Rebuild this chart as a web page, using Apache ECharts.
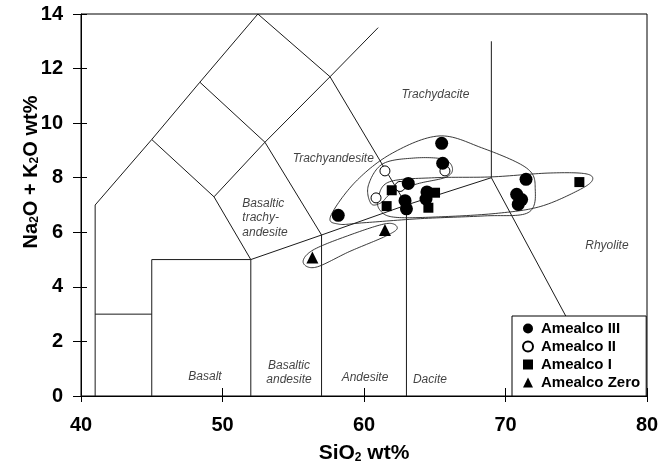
<!DOCTYPE html>
<html>
<head>
<meta charset="utf-8">
<script src="https://cdn.jsdelivr.net/npm/echarts@6/dist/echarts.min.js"></script>
<style>html,body{margin:0;padding:0;background:#fff}#c{width:670px;height:470px}</style>
</head>
<body>
<div id="c"></div>
<script>
// ---- axis ticks ----
const xTickValues = [40, 50, 60, 70, 80];
const yTickValues = [0, 2, 4, 6, 8, 10, 12, 14];

// ---- TAS field boundaries (SiO2, Na2O+K2O) ----
const tasOuterLeft   = [[41,0],[41,7],[45,9.4],[48.4,11.5],[52.5,14]];
const tasPicro       = [[41,3],[45,3]];
const tasBasalt      = [[45,0],[45,5],[52,5]];
const tasSubalkaline = [[52,0],[52,5],[57,5.9],[63,7],[69,8]];
const tasAndesite    = [[57,0],[57,5.9]];
const tasDacite      = [[63,0],[63,7]];
const tasTrachybas   = [[45,9.4],[49.4,7.3],[52,5]];
const tasBTA         = [[48.4,11.5],[53,9.3],[57,5.9]];
const tasPhono       = [[49.4,7.3],[53,9.3],[57.6,11.7],[61,13.5]];
const tasTA          = [[52.5,14],[57.6,11.7],[63,7]];
const tasRhyolite    = [[69,13],[69,8],[77.3,0]];

// ---- samples ----
const amealcoIII  = [[65.49,9.26],[65.56,8.53],[63.13,7.79],[58.18,6.62],[62.9,7.16],[63.0,6.86],
                     [64.45,7.48],[64.38,7.22],[71.45,7.94],[70.79,7.39],[71.14,7.2],[70.9,7.02]];
const amealcoII   = [[61.48,8.25],[60.85,7.26],[65.72,8.25],[62.55,7.68]];
const amealcoI    = [[61.96,7.54],[61.6,6.96],[65.02,7.45],[64.55,6.9],[75.22,7.84]];
const amealcoZero = [[61.48,6.08],[56.35,5.08]];

// ---- group envelopes (closed outline control points) ----
const envIII  = [[57.65,6.6],[59.4,7.85],[62,8.9],[65.3,9.53],[68.3,9.1],[71.5,8.35],[72.1,7.6],
                 [71.6,6.72],[68.5,6.6],[64,6.5],[60,6.35],[58.2,6.3]];
const envII   = [[60.5,7.05],[60.3,7.7],[61.3,8.5],[63.5,8.72],[65.6,8.68],[66.25,8.35],[65.8,8.02],
                 [63.8,7.78],[62,7.45],[61.2,7.08]];
const envI    = [[61.0,7.25],[61.8,7.85],[65,8.0],[69,8.03],[73,8.17],[75.6,8.15],[76.15,7.92],
                 [75.2,7.55],[72.5,6.95],[69.5,6.7],[65.5,6.57],[62.2,6.55],[61.15,6.8]];
const envZero = [[55.7,4.9],[56.4,5.35],[59,5.9],[61.6,6.32],[62.35,6.15],[61.5,5.85],
                 [59,5.3],[56.6,4.72]];

// ---- field names ----
const fieldNames = ['Trachydacite','Trachyandesite','Basaltic\ntrachy-\nandesite','Rhyolite',
                    'Basalt','Basaltic\nandesite','Andesite','Dacite'];
const fieldPos   = [[65.05,11.03],[57.83,8.7],[51.4,6.53],[77.17,5.51],
                    [48.76,0.70],[54.7,0.86],[60.07,0.66],[64.66,0.59]];
const fieldAlign = ['center','center','left','center','center','center','center','center'];

const FONT = 'Arial, "Liberation Sans", sans-serif';

const boundaries = [tasOuterLeft,tasPicro,tasBasalt,tasSubalkaline,tasAndesite,tasDacite,
                    tasTrachybas,tasBTA,tasPhono,tasTA,tasRhyolite];
const envelopes = [envIII, envII, envI, envZero];

// closed Catmull-Rom through pixel points
function closedSpline(pts, steps){
  const n = pts.length, out = [];
  for (let i=0;i<n;i++){
    const p0=pts[(i-1+n)%n], p1=pts[i], p2=pts[(i+1)%n], p3=pts[(i+2)%n];
    for (let s=0;s<steps;s++){
      const t=s/steps, t2=t*t, t3=t2*t;
      const f=(a,b,c,d)=>0.5*((2*b)+(-a+c)*t+(2*a-5*b+4*c-d)*t2+(-a+3*b-3*c+d)*t3);
      out.push([f(p0[0],p1[0],p2[0],p3[0]), f(p0[1],p1[1],p2[1],p3[1])]);
    }
  }
  return out;
}

const series = [];
boundaries.forEach(b => series.push({
  type:'line', data:b, showSymbol:false, silent:true, z:1,
  lineStyle:{color:'#1a1a1a', width:1}
}));
series.push({
  type:'custom', silent:true, z:2,
  data: envelopes.map((e,i)=>[e[0][0], e[0][1], i]),
  encode:{x:0, y:1},
  renderItem:(params, api)=>{
    const env = envelopes[api.value(2)];
    const pts = closedSpline(env.map(p=>api.coord(p)), 16);
    return {type:'polygon', shape:{points:pts},
            style:{fill:'none', stroke:'#222', lineWidth:0.9}};
  }
});
series.push({
  type:'scatter', silent:true, z:3, symbolSize:0.1, itemStyle:{color:'transparent'},
  data: fieldNames.map((n,i)=>({name:n, value:fieldPos[i],
        label:{align:fieldAlign[i]}})),
  label:{show:true, position:'inside', formatter:p=>p.name, color:'#111',
         fontFamily:FONT, fontStyle:'italic', fontSize:12, lineHeight:14.5, verticalAlign:'middle'}
});
series.push({name:'Amealco II', type:'scatter', data:amealcoII, symbol:'circle', symbolSize:10, z:4,
  itemStyle:{color:'#fff', borderColor:'#000', borderWidth:1, opacity:1}});
series.push({name:'Amealco I', type:'scatter', data:amealcoI, symbol:'rect', symbolSize:10, z:4,
  itemStyle:{color:'#000', opacity:1}});
series.push({name:'Amealco Zero', type:'scatter', data:amealcoZero, symbol:'triangle', symbolSize:12, z:4,
  itemStyle:{color:'#000', opacity:1}});
series.push({name:'Amealco III', type:'scatter', data:amealcoIII, symbol:'circle', symbolSize:13, z:5,
  itemStyle:{color:'#000', opacity:1}});

const tickLabelStyle = {color:'#000', fontFamily:FONT, fontWeight:'bold', fontSize:20};
const xMin = xTickValues[0], xMax = xTickValues[xTickValues.length-1], xInt = xTickValues[1]-xTickValues[0];
const yMin = yTickValues[0], yMax = yTickValues[yTickValues.length-1], yInt = yTickValues[1]-yTickValues[0];

const chart = echarts.init(document.getElementById('c'), null, {renderer:'canvas'});
chart.setOption({
  animation:false,
  backgroundColor:'#fff',
  grid:{left:81, right:23, top:14, bottom:74, show:true, borderColor:'#000', borderWidth:1, backgroundColor:'transparent'},
  xAxis:[
    {type:'value', min:xMin, max:xMax, interval:xInt, position:'bottom',
     axisLine:{show:true, onZero:false, lineStyle:{color:'#000', width:1}},
     axisTick:{show:true, length:6, lineStyle:{color:'#000'}},
     axisLabel:{...tickLabelStyle, margin:19},
     splitLine:{show:false},
     name:'SiO{s|2} wt%', nameLocation:'middle', nameGap:47,
     nameTextStyle:{color:'#000', fontFamily:FONT, fontWeight:'bold', fontSize:21,
       rich:{s:{fontFamily:FONT, fontWeight:'bold', fontSize:12, lineHeight:8, verticalAlign:'bottom'}}}},
    {type:'value', min:xMin, max:xMax, interval:xInt, position:'bottom',
     axisLine:{show:false, onZero:false}, axisTick:{show:true, inside:true, length:8, lineStyle:{color:'#000'}},
     axisLabel:{show:false}, splitLine:{show:false}}
  ],
  yAxis:[
    {type:'value', min:yMin, max:yMax, interval:yInt, position:'left',
     axisLine:{show:true, onZero:false, lineStyle:{color:'#000', width:1}},
     axisTick:{show:true, length:8, lineStyle:{color:'#000'}},
     axisLabel:{...tickLabelStyle, margin:18},
     splitLine:{show:false}},
    {type:'value', min:yMin, max:yMax, interval:yInt, position:'left',
     axisLine:{show:false, onZero:false}, axisTick:{show:true, inside:true, length:6, lineStyle:{color:'#000'}},
     axisLabel:{show:false}, splitLine:{show:false}}
  ],
  legend:{
    data:['Amealco III','Amealco II','Amealco I','Amealco Zero'],
    orient:'vertical', left:512, top:316,
    backgroundColor:'#fff', borderColor:'#000', borderWidth:1,
    padding:[5,6,6,10], itemGap:3, itemWidth:10, itemHeight:10,
    selectedMode:false,
    textStyle:{color:'#000', fontFamily:FONT, fontWeight:'bold', fontSize:15, lineHeight:15, padding:[0,0,0,3]}
  },
  graphic:[{
    type:'text', x:31, y:172, rotation:Math.PI/2, silent:true,
    style:{
      text:'{b|Na}{s|2}{b|O + K}{s|2}{b|O wt%}',
      align:'center', verticalAlign:'middle', fill:'#000',
      rich:{
        b:{fontFamily:FONT, fontWeight:'bold', fontSize:20, fill:'#000'},
        s:{fontFamily:FONT, fontWeight:'bold', fontSize:12, lineHeight:8, verticalAlign:'bottom', fill:'#000'}
      }
    }
  }],
  series:series
});
</script>
</body>
</html>
